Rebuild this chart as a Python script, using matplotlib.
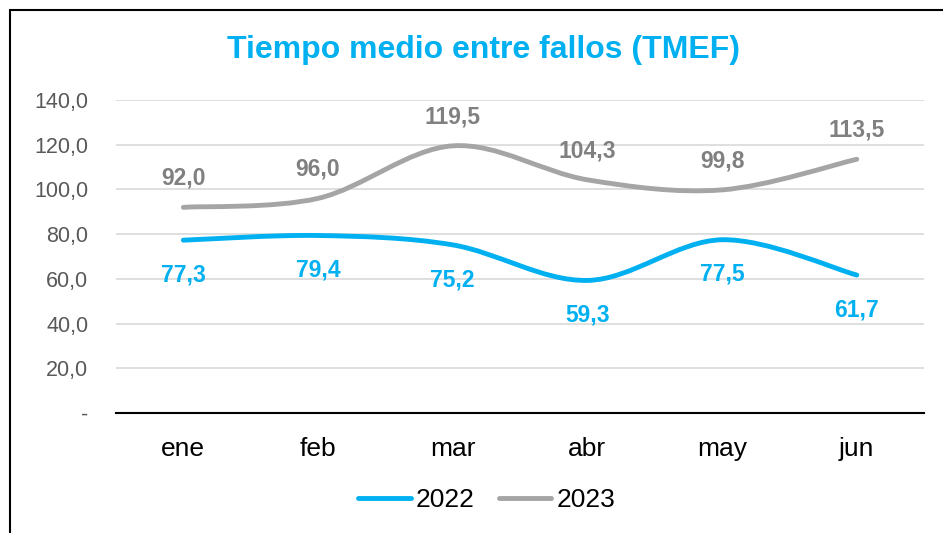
import numpy as np
import matplotlib.pyplot as plt
from matplotlib.path import Path
from matplotlib.patches import PathPatch, Rectangle
from matplotlib.lines import Line2D

months = ['ene', 'feb', 'mar', 'abr', 'may', 'jun']
v2022 = [77.3, 79.4, 75.2, 59.3, 77.5, 61.7]
v2023 = [92.0, 96.0, 119.5, 104.3, 99.8, 113.5]
yticks = [0, 20, 40, 60, 80, 100, 120, 140]

blue = '#00B0F0'
gray = '#A5A5A5'

plt.rcParams['font.family'] = ['Liberation Sans', 'DejaVu Sans']


def smooth_path(ys):
    # Excel-style smoothed line as cubic bezier segments
    xs = np.arange(len(ys), dtype=float)
    ys = np.asarray(ys, dtype=float)
    pts = np.column_stack([xs, ys])
    verts = [pts[0]]
    codes = [Path.MOVETO]
    n = len(pts)
    for i in range(n - 1):
        p0 = pts[max(i - 1, 0)]
        p1 = pts[i]
        p2 = pts[i + 1]
        p3 = pts[min(i + 2, n - 1)]
        c1 = p1 + (p2 - p0) / 6
        c2 = p2 - (p3 - p1) / 6
        verts += [c1, c2, p2]
        codes += [Path.CURVE4] * 3
    return Path(verts, codes)


fig = plt.figure(figsize=(9.43, 5.33), dpi=100)
ax = fig.add_axes([0.123, 0.2251, 0.857, 0.5873])

for ys, col in [(v2022, blue), (v2023, gray)]:
    ax.add_patch(PathPatch(smooth_path(ys), facecolor='none', edgecolor=col,
                           lw=3.5, capstyle='round', zorder=3))

x = np.arange(len(months))
for i in x:
    ax.annotate(f'{v2023[i]:.1f}'.replace('.', ','), (i, v2023[i]),
                xytext=(0, 21), textcoords='offset points', ha='center',
                va='center', color='#808080', fontsize=16.5, fontweight='bold')
    ax.annotate(f'{v2022[i]:.1f}'.replace('.', ','), (i, v2022[i]),
                xytext=(0, -25), textcoords='offset points', ha='center',
                va='center', color=blue, fontsize=16.5, fontweight='bold')

ax.set_xlim(-0.5, 5.5)
ax.set_ylim(0, 140)
ax.set_yticks(yticks)
ax.set_yticklabels(['-' if t == 0 else f'{t:.1f}'.replace('.', ',') for t in yticks])
ax.set_xticks(x)
ax.set_xticklabels(months)
ax.tick_params(axis='y', length=0, pad=20, labelsize=15.5, labelcolor='#595959')
ax.tick_params(axis='x', length=0, pad=17, labelsize=19, labelcolor='black')
ax.grid(axis='y', color='#D9D9D9', lw=1.2)
ax.set_axisbelow(True)
for s in ['top', 'right', 'left']:
    ax.spines[s].set_visible(False)
ax.spines['bottom'].set_color('black')
ax.spines['bottom'].set_linewidth(1.5)

fig.text(0.513, 0.906, 'Tiempo medio entre fallos (TMEF)', ha='center',
         va='center', color=blue, fontsize=23, fontweight='bold')

handles = [Line2D([], [], color=blue, lw=3.5, solid_capstyle='round'),
           Line2D([], [], color=gray, lw=3.5, solid_capstyle='round')]
fig.legend(handles, ['2022', '2023'], loc='center', bbox_to_anchor=(0.516, 0.062),
           ncol=2, frameon=False, fontsize=19, handlelength=2.0,
           handletextpad=0.2, columnspacing=0.9)

fig.patches.append(Rectangle((0.011, -0.1), 1.2, 1.081, transform=fig.transFigure,
                             fill=False, edgecolor='black', lw=1.5))

fig.savefig('out.png', dpi=100)
